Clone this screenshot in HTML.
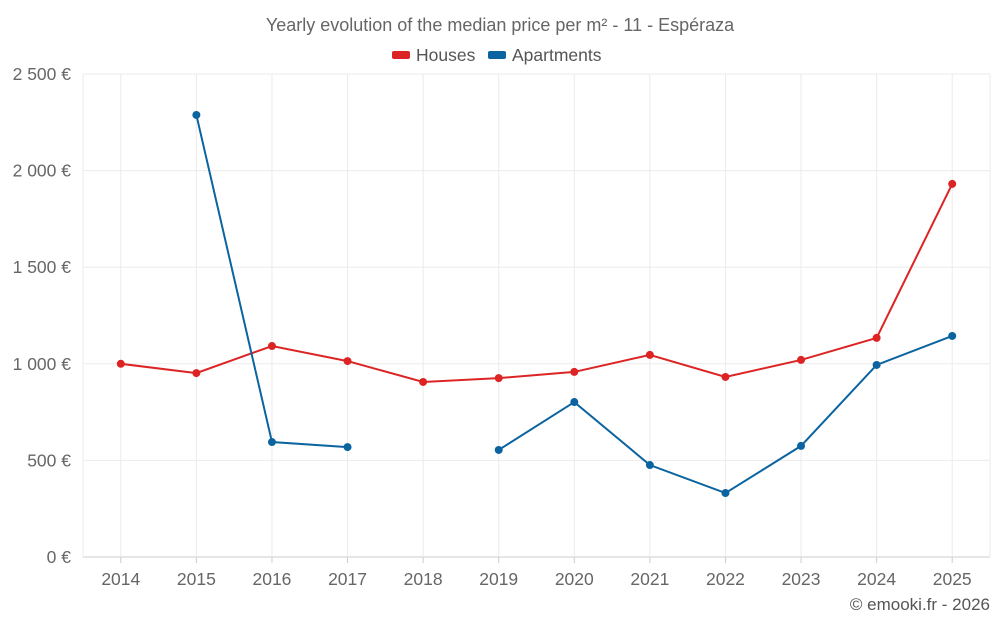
<!DOCTYPE html>
<html><head><meta charset="utf-8"><style>
body{margin:0;background:#fff;font-family:"Liberation Sans",sans-serif}
svg text{font-family:"Liberation Sans",sans-serif}
</style></head><body>
<svg id="c" width="1000" height="625" xmlns="http://www.w3.org/2000/svg">
<text x="500" y="31" text-anchor="middle" font-size="18" fill="#666">Yearly evolution of the median price per m² - 11 - Espéraza</text>
<g><rect x="392" y="51" width="18" height="8" rx="2" fill="#dc2424"/><text x="416" y="61" font-size="17.5" fill="#555">Houses</text></g>
<g><rect x="488" y="51" width="18" height="8" rx="2" fill="#0b64a0"/><text x="512" y="61" font-size="17.5" fill="#555">Apartments</text></g>
<g id="grid"></g><g id="axes"></g><g id="series"></g>
<text x="990" y="610" text-anchor="end" font-size="17" fill="#555">© emooki.fr - 2026</text>
</svg>
<script>
const years=[2014,2015,2016,2017,2018,2019,2020,2021,2022,2023,2024,2025];
const houses=[1000,952,1092,1014,906,926,958,1046,932,1020,1134,1931];
const apartments=[null,2288,595,569,null,554,802,476,331,575,994,1144];
const yTicks=[0,500,1000,1500,2000,2500];
const yTickLabels=["0 €","500 €","1 000 €","1 500 €","2 000 €","2 500 €"];
const L=83,R=990,T=74,B=557;
const step=(R-L)/years.length;
const xs=i=>L+step*(i+0.5);
const ys=v=>B-(v/2500)*(B-T);
const NS="http://www.w3.org/2000/svg";
function mk(t,a,p){const e=document.createElementNS(NS,t);for(const k in a)e.setAttribute(k,a[k]);p.appendChild(e);return e;}
const g=document.getElementById('grid'),ax=document.getElementById('axes'),s=document.getElementById('series');
yTicks.forEach((v,i)=>{
 const l=mk('line',{x1:L,x2:R,y1:ys(v),y2:ys(v),stroke:i==0?'#ccc':'#ebebeb'},g);
 
 
 const t=mk('text',{x:71,y:ys(v)+6,'text-anchor':'end','font-size':17.5,fill:'#666'},ax);
 t.textContent=yTickLabels[i];
 
 
});
[L,R].forEach(x=>{const l=mk('line',{x1:x,x2:x,y1:T,y2:B,stroke:'#ebebeb'},g);
 
 });
years.forEach((y,i)=>{
 const l=mk('line',{x1:xs(i),x2:xs(i),y1:T,y2:B,stroke:'#ebebeb'},g);
 
 
 const tk=mk('line',{x1:xs(i),x2:xs(i),y1:B,y2:B+6,stroke:'#ccc'},ax);
 
 
 const t=mk('text',{x:xs(i),y:585,'text-anchor':'middle','font-size':17.5,fill:'#666'},ax);
 t.textContent=y;
 
 
});
function draw(data,color,name){
 let segs=[],cur=[];
 data.forEach((v,i)=>{if(v==null){if(cur.length)segs.push(cur);cur=[];}else cur.push([xs(i),ys(v)]);});
 if(cur.length)segs.push(cur);
 segs.forEach(sg=>{const p=mk('polyline',{points:sg.map(q=>q.join(',')).join(' '),fill:'none',stroke:color,'stroke-width':2},s);
  
  });
 data.forEach((v,i)=>{if(v==null)return;const c=mk('circle',{cx:xs(i),cy:ys(v),r:4,fill:color},s);
  
  });
}
draw(houses,'#dc2424','houses');
draw(apartments,'#0b64a0','apartments');
</script>
</body></html>
